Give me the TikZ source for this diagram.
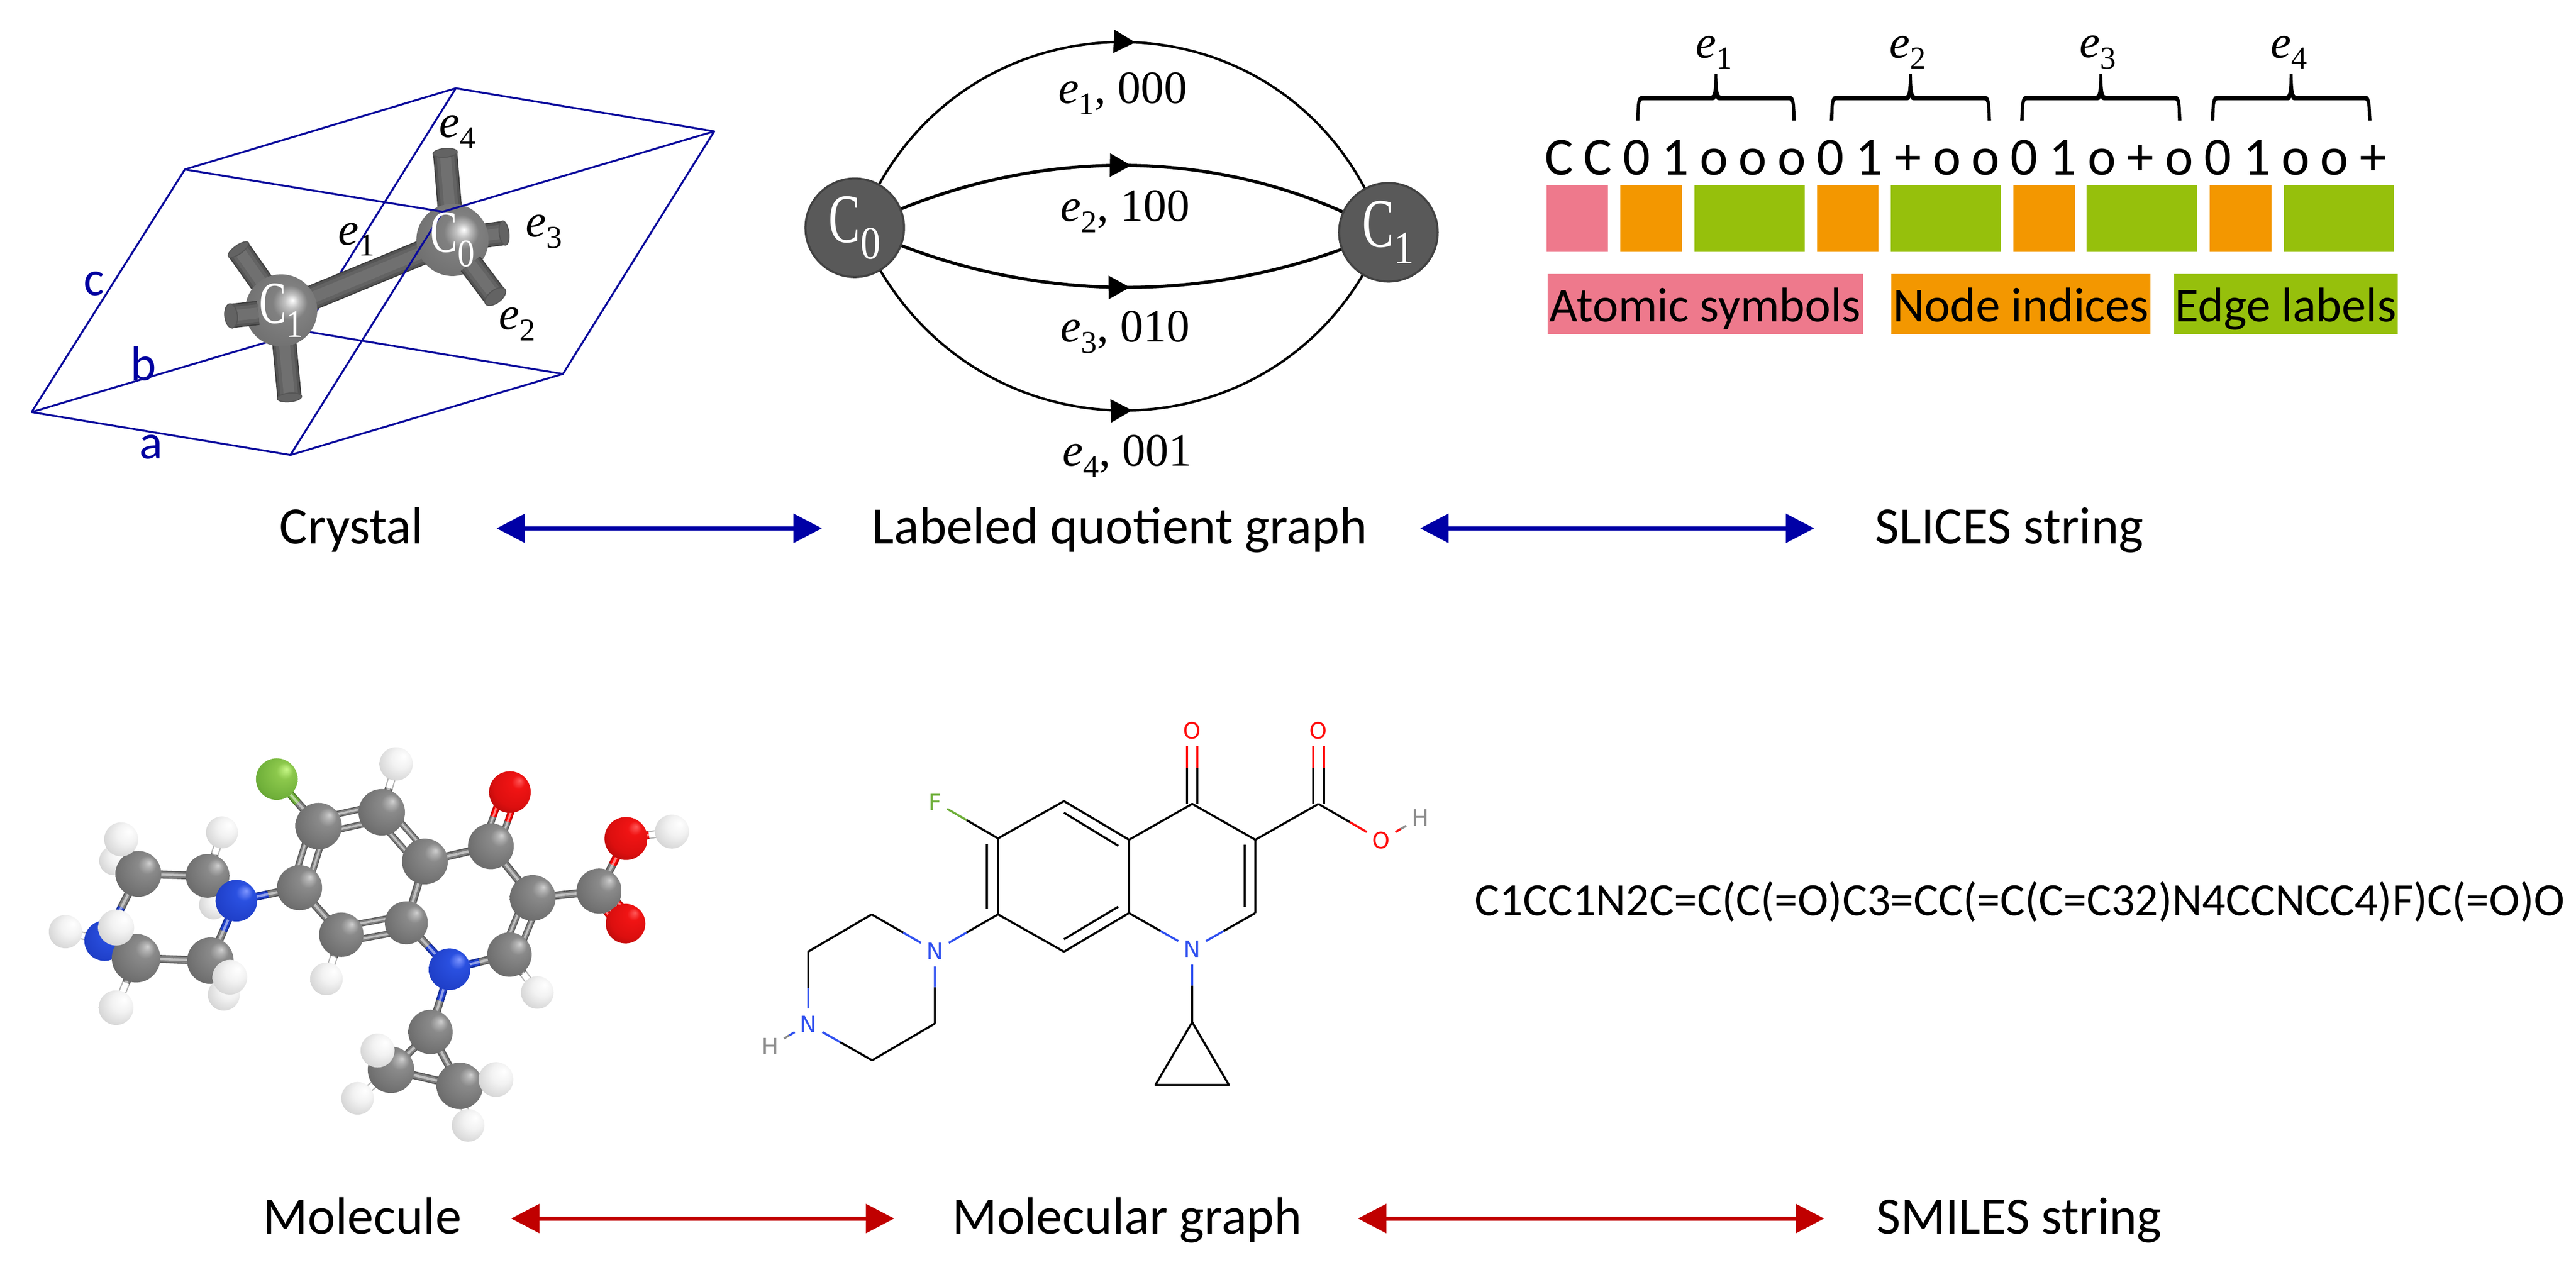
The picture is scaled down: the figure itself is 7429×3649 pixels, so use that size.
\documentclass[tikz,border=0pt]{standalone}
\usepackage{fontspec}
\usepackage{graphicx}
\setmainfont{Carlito}
\newfontfamily\cam{Liberation Serif}
\newfontfamily\djv{DejaVu Sans}
\usetikzlibrary{calc,decorations.markings,arrows.meta}
\definecolor{cellblue}{HTML}{0A0A9C}
\definecolor{lblblue}{HTML}{0000A0}
\definecolor{arrblue}{HTML}{0000A6}
\definecolor{arrred}{HTML}{C00000}
\definecolor{pinkc}{HTML}{EE798C}
\definecolor{orangec}{HTML}{F39700}
\definecolor{greenc}{HTML}{96C00C}
\definecolor{nodeg}{HTML}{595959}
\definecolor{noder}{HTML}{424242}
\definecolor{atomN}{HTML}{2F50F0}
\definecolor{atomO}{HTML}{FF0D0D}
\definecolor{atomF}{HTML}{6FAF3A}
\definecolor{atomH}{HTML}{8C8C8C}
\definecolor{bondN}{HTML}{2040D0}
\definecolor{stickg}{HTML}{808080}
% ball shadings: declared through a small helper taking HTML stops
\newcommand\stopc[2]{\definecolor{#1}{HTML}{#2}}
\stopc{ca}{D0D0D0}\stopc{cb}{B0B0B0}\stopc{cc}{8A8A8A}\stopc{cd}{757575}\stopc{ce}{606060}\stopc{cf}{484848}\stopc{cg}{383838}
\stopc{oa}{FF5A5A}\stopc{ob}{F01414}\stopc{oc}{DC0F0F}\stopc{od}{A80808}\stopc{oe}{600404}\stopc{of}{2C0000}
\stopc{na}{7F96FF}\stopc{nb}{2A50E0}\stopc{nc}{1F3FC8}\stopc{nd}{172E9C}\stopc{ne}{101F66}\stopc{nf}{0A1240}
\stopc{ha}{FFFFFF}\stopc{hb}{F2F2F2}\stopc{hc}{D8D8D8}\stopc{hd}{B0B0B0}\stopc{he}{808080}\stopc{hf}{606060}
\stopc{fa}{C8F888}\stopc{fb}{8CC84C}\stopc{fc}{70B03A}\stopc{fd}{4E8426}\stopc{fe}{284812}
\stopc{sa}{FFFFFF}\stopc{sb}{C0C0C0}\stopc{sc}{808080}\stopc{sd}{707070}\stopc{se}{626262}\stopc{sf}{4C4C4C}\stopc{sg}{404040}
\pgfdeclareradialshading{ballC}{\pgfpoint{12bp}{12bp}}{color(0bp)=(ca);color(4bp)=(cb);color(10bp)=(cc);color(25bp)=(cd);color(38bp)=(ce);color(46bp)=(cf);color(50bp)=(cg)}
\pgfdeclareradialshading{ballO}{\pgfpoint{12bp}{14bp}}{color(0bp)=(oa);color(8bp)=(ob);color(25bp)=(oc);color(38bp)=(od);color(46bp)=(oe);color(50bp)=(of)}
\pgfdeclareradialshading{ballN}{\pgfpoint{12bp}{12bp}}{color(0bp)=(na);color(10bp)=(nb);color(30bp)=(nc);color(40bp)=(nd);color(47bp)=(ne);color(50bp)=(nf)}
\pgfdeclareradialshading{ballH}{\pgfpoint{12bp}{12bp}}{color(0bp)=(ha);color(15bp)=(hb);color(30bp)=(hc);color(42bp)=(hd);color(48bp)=(he);color(50bp)=(hf)}
\pgfdeclareradialshading{ballF}{\pgfpoint{12bp}{12bp}}{color(0bp)=(fa);color(10bp)=(fb);color(28bp)=(fc);color(42bp)=(fd);color(50bp)=(fe)}
\pgfdeclareradialshading{ballS}{\pgfpoint{8bp}{7bp}}{color(0bp)=(sa);color(5bp)=(sb);color(12bp)=(sc);color(30bp)=(sd);color(40bp)=(se);color(46bp)=(sf);color(50bp)=(sg)}
\newcommand\ballat[3]{\shade[shading=ball#3] (#1) circle[radius=#2cm];}
% sticks for the molecule
\newcommand\halfstk[4]{%
 \draw[line width=#4cm,color=#3!70!black] #1 -- #2;
 \draw[line width=0.7*#4cm,color=#3] #1 -- #2;
 \draw[line width=0.3*#4cm,color=#3!50!white] #1 -- #2;}
\newcommand\stk[5][0.23]{%
 \halfstk{(#2)}{($(#2)!.5!(#3)$)}{#4}{#1}\halfstk{($(#2)!.5!(#3)$)}{(#3)}{#5}{#1}}
\newcommand\dstk[4]{%
 \coordinate (p1) at ($(#1)!0.22cm!90:(#2)$); \coordinate (p2) at ($(#2)!0.22cm!-90:(#1)$);
 \coordinate (q1) at ($(#1)!0.22cm!-90:(#2)$); \coordinate (q2) at ($(#2)!0.22cm!90:(#1)$);
 \stk[0.19]{p1}{p2}{#3}{#4}\stk[0.19]{q1}{q2}{#3}{#4}}
% cylinders of the crystal
\definecolor{cyl0}{HTML}{3F3F3F}
\definecolor{cyl1}{HTML}{555555}
\definecolor{cyl2}{HTML}{636363}
\definecolor{cyl3}{HTML}{707070}
\newcommand\cyl[3]{%
 \draw[line width=#3*1.0cm,color=cyl0] (#1) -- (#2);
 \draw[line width=#3*0.9cm,color=cyl1] (#1) -- (#2);
 \draw[line width=#3*0.72cm,color=cyl2] (#1) -- (#2);
 \draw[line width=#3*0.45cm,color=cyl3] (#1) -- (#2);}
\newcommand\cylend[4][0.18]{%
 \cyl{#2}{#3}{#4}
 \fill[color=cyl2,draw=cyl1,line width=.03cm] let \p1=($(#3)-(#2)$),\n1={atan2(\y1,\x1)} in (#3) ellipse[x radius=#4*#1cm,y radius=#4*0.5cm,rotate=\n1];}
% text helpers
\newcommand\esub[1]{{\cam\fontsize{38}{40}\selectfont\itshape e\raisebox{-0.24em}{\upshape\fontsize{26}{26}\selectfont #1}}}
\newcommand\elab[2]{\esub{#1}{\cam\fontsize{38}{40}\selectfont, #2}}
\newcommand\csub[4]{{\cam\fontsize{#3}{#3}\selectfont\scalebox{.68}[1]{#1}\raisebox{-0.24em}{\fontsize{#4}{#4}\selectfont\scalebox{.87}[1]{#2}}}}
\newcommand\bondh[4]{\draw[molb] (#1) -- ($(#1)!.5!(#2)$); \draw[molb,color=#3] ($(#1)!.5!(#2)$) -- (#2);}
\newcommand\brk[3]{% left, right, name
 \coordinate (#3c) at ({(#1+#2)/2},214);
 \fill (#1-5,348) -- (#1-3,310) .. controls (#1-2,290) and (#1+2,276) .. (#1+12,276) -- ({(#1+#2)/2-14},276) .. controls ({(#1+#2)/2-6},276) and ({(#1+#2)/2-5},250) .. ({(#1+#2)/2-4},214) -- ({(#1+#2)/2+4},214) .. controls ({(#1+#2)/2+5},250) and ({(#1+#2)/2+6},276) .. ({(#1+#2)/2+14},276) -- (#2-12,276) .. controls (#2-2,276) and (#2+2,290) .. (#2+3,310) -- (#2+5,348) -- (#2-5,348) -- (#2-6,310) .. controls (#2-7,296) and (#2-9,289) .. (#2-14,289) -- ({(#1+#2)/2+8},289) .. controls ({(#1+#2)/2+3},289) and ({(#1+#2)/2+1},285) .. ({(#1+#2)/2},281) .. controls ({(#1+#2)/2-1},285) and ({(#1+#2)/2-3},289) .. ({(#1+#2)/2-8},289) -- (#1+14,289) .. controls (#1+9,289) and (#1+7,296) .. (#1+6,310) -- (#1+5,348) -- cycle;}
\tikzset{
 cellline/.style={color=cellblue,line width=.055cm},
 celllab/.style={text=lblblue,font=\fontsize{40}{44}\selectfont,inner sep=0},
 mainlab/.style={font=\fontsize{43}{48}\selectfont,text height=1.2cm,text depth=.32cm,inner sep=0},
 gnode/.style={circle,fill=nodeg,draw=noder,line width=.06cm,minimum size=2.84cm,inner sep=0,text=white},
 gedge/.style={line width=.07cm,postaction=decorate,decoration={markings,mark=at position 0.52 with {\arrow{Triangle[length=.62cm,width=.66cm]}}}},
 gedgeb/.style={gedge,line width=.09cm},
 barrow/.style={{Triangle[length=.82cm,width=.82cm]}-{Triangle[length=.82cm,width=.82cm]},color=arrblue,line width=.12cm},
 rarrow/.style={{Triangle[length=.82cm,width=.82cm]}-{Triangle[length=.82cm,width=.82cm]},color=arrred,line width=.12cm},
 strchar/.style={anchor=base,inner sep=0,font=\fontsize{44}{48}\selectfont},
 legbox/.style={minimum height=1.73cm,inner sep=0,font=\fontsize{40}{44}\selectfont,text height=1.32cm,text depth=.32cm},
 molb/.style={line width=.06cm,color=black},
 hetero/.style={inner xsep=.15cm,inner ysep=.2cm,font=\djv\fontsize{18.5}{20}\selectfont,text height=.48cm,text depth=0cm},
}
\begin{document}
\begin{tikzpicture}[x=0.01cm,y=-0.01cm]
\useasboundingbox (0,0) rectangle (7429,3649);
%% ================= crystal =================
\begin{scope}[xscale=1.4031,yscale=0.7972,shift={(0,188.2)}]
 \coordinate (A) at (65,1303); \coordinate (B) at (597,1458); \coordinate (Cc) at (1157,1165); \coordinate (D) at (625,1010);
 \coordinate (E) at (380,425); \coordinate (F) at (910,578); \coordinate (G) at (1468,287); \coordinate (H) at (937,131);
 \coordinate (c0) at (930,680); \coordinate (c1) at (578,935);
 \coordinate (c0a) at (915,365); \coordinate (c0b) at (1036,655); \coordinate (c0c) at (1018,885);
 \coordinate (c1a) at (490,715); \coordinate (c1b) at (475,955); \coordinate (c1c) at (595,1250);
 \node[celllab] (la) at (310,1430) {a};
 \node[celllab] (lb) at (295,1128) {b};
 \node[celllab] (lc) at (193,838) {c};
 \node[inner sep=0] (e4l) at (940,290) {\esub{4}};
 \node[inner sep=0] (e1l) at (733,678) {\esub{1}};
 \node[inner sep=0] (e3l) at (1118,650) {\esub{3}};
 \node[inner sep=0] (e2l) at (1063,985) {\esub{2}};
\end{scope}
\coordinate (c0f) at ($(c0)!.42!(c0c)$);
\coordinate (c1f) at ($(c1)!.46!(c1b)$);
\draw[cellline] (D) -- (H) (A) -- (D) -- (Cc);
\cyl{c0}{c1}{.72}
\cylend{c1}{c1a}{.70}
\cylend{c1}{c1c}{.70}
\cylend{c0}{c0a}{.70}
\cylend[.2]{c0}{c0b}{.70}
\ballat{c1}{1.04}{S}
\ballat{c0}{1.04}{S}
\cylend[.26]{c0f}{c0c}{.70}
\cylend[.26]{c1f}{c1b}{.70}
\draw[cellline,line join=round] (A) -- (B) -- (Cc) -- (G) -- (F) -- (E) -- (A);
\draw[cellline] (E) -- (H) -- (G) (B) -- (F);
\node[text=white,inner sep=0] (t0) at (c0) {\csub{C}{0}{49}{32}};
\node[text=white,inner sep=0] (t1) at (c1) {\csub{C}{1}{49}{32}};
\node[mainlab] (crystal) at (1014,1524) {Crystal};
%% ================= quotient graph =================
\node[gnode] (n0) at (2465,657) {\csub{C}{0}{57}{38}};
\node[gnode] (n1) at (4004,670) {\csub{C}{1}{57}{38}};
\coordinate (o1a) at (2844,-17); \coordinate (o1b) at (3636,-17);
\coordinate (o2a) at (3013,434); \coordinate (o2b) at (3476,434);
\coordinate (o3a) at (3013,867); \coordinate (o3b) at (3463,867);
\coordinate (o4a) at (2859,1316); \coordinate (o4b) at (3617,1316);
\draw[gedge] (n0) .. controls (o1a) and (o1b) .. (n1);
\draw[gedgeb] (n0) .. controls (o2a) and (o2b) .. (n1);
\draw[gedgeb] (n0) .. controls (o3a) and (o3b) .. (n1);
\draw[gedge] (n0) .. controls (o4a) and (o4b) .. (n1);
\node[inner sep=0] (l1) at (3238,270) {\elab{1}{000}};
\node[inner sep=0] (l2) at (3245,610) {\elab{2}{100}};
\node[inner sep=0] (l3) at (3245,958) {\elab{3}{010}};
\node[inner sep=0] (l4) at (3251,1316) {\elab{4}{001}};
\node[mainlab] (lqg) at (3229,1524) {Labeled quotient graph};
%% ================= SLICES =================
\foreach \c [count=\i from 0] in {C,C,0,1,o,o,o,0,1,+,o,o,0,1,o,+,o,0,1,o,o,+}{
 \node[strchar] (s\i) at ({4496+111.8*\i},504) {\c};
}
\foreach \l/\r/\col [count=\i] in {4460/4637/pinkc,4673/4851/orangec,4887/5204/greenc,5240/5417/orangec,5453/5771/greenc,5807/5984/orangec,6018/6337/greenc,6373/6551/orangec,6587/6904/greenc}{
 \fill[color=\col] (\l,534) rectangle (\r,727);
}
\brk{4723}{5174}{b1}\brk{5282}{5737}{b2}\brk{5831}{6286}{b3}\brk{6381}{6834}{b4}
\node[inner sep=0] (be1) at (4943,151) {\esub{1}};
\node[inner sep=0] (be2) at (5501,151) {\esub{2}};
\node[inner sep=0] (be3) at (6050,151) {\esub{3}};
\node[inner sep=0] (be4) at (6601,151) {\esub{4}};
\node[legbox,fill=pinkc,minimum width=9.08cm] (lg1) at (4918,877.5) {Atomic symbols};
\node[legbox,fill=orangec,minimum width=7.47cm] (lg2) at (5828.5,877.5) {Node indices};
\node[legbox,fill=greenc,minimum width=6.44cm] (lg3) at (6592,877.5) {Edge labels};
\node[mainlab] (slices) at (5795,1524) {SLICES string};
\draw[barrow,shorten <=2.10cm,shorten >=1.44cm] (crystal) -- (lqg);
\draw[barrow,shorten <=1.52cm,shorten >=1.75cm] (lqg) -- (slices);
%% ================= molecule 3D =================
\begin{scope}[xscale=1.3393,yscale=0.7972,shift={(0,2634.2)}]
 \foreach \n/\x/\y in {F1/596/185,Ha/853/130,O1/1098/232,C1/686/355,C2/822/305,C3/915/483,C4/1057/428,C5/1147/615,C6/1290/590,O2/1348/400,Hb/1447/375,O3/1347/708,C7/645/578,C8/735/748,C9/875/705,N1/968/873,C10/1097/820,Hc/1157/957,Hd/703/908,N2/509/625,C11/447/535,C12/298/528,He/478/378,Hf/261/403,Hg/245/480,N3/225/770,Hh/141/737,Hi/250/722,C13/293/833,C14/453/842,Hj/495/902,Hk/482/965,Hl/250/1012,Hm/460/640,C15/927/1100,C16/842/1237,C17/990/1295,Hn/813/1167,Ho/770/1340,Hp/1068/1272,Hq/1008/1438}{
  \coordinate (\n) at (\x,\y);
 }
\end{scope}
\stk{C1}{F1}{stickg}{atomF}
\dstk{C1}{C2}{stickg}{stickg}
\stk{C2}{Ha}{stickg}{white}
\dstk{C2}{C3}{stickg}{stickg}
\dstk{C1}{C7}{stickg}{stickg}
\stk{C7}{C8}{stickg}{stickg}
\dstk{C8}{C9}{stickg}{stickg}
\stk{C9}{C3}{stickg}{stickg}
\stk{C3}{C4}{stickg}{stickg}
\dstk{C4}{O1}{stickg}{red}
\stk{C4}{C5}{stickg}{stickg}
\dstk{C5}{C10}{stickg}{stickg}
\stk{C5}{C6}{stickg}{stickg}
\stk{C6}{O2}{stickg}{red}
\dstk{C6}{O3}{stickg}{red}
\stk{O2}{Hb}{red}{white}
\stk{C10}{N1}{stickg}{bondN}
\stk{C9}{N1}{stickg}{bondN}
\stk{C15}{N1}{stickg}{bondN}
\stk{C10}{Hc}{stickg}{white}
\stk{C8}{Hd}{stickg}{white}
\stk{C7}{N2}{stickg}{bondN}
\stk{C11}{N2}{stickg}{bondN}
\stk{C14}{N2}{stickg}{bondN}
\stk{C11}{C12}{stickg}{stickg}
\stk{C12}{N3}{stickg}{bondN}
\stk{C13}{N3}{stickg}{bondN}
\stk{C13}{C14}{stickg}{stickg}
\stk{C11}{He}{stickg}{white}
\stk{C12}{Hf}{stickg}{white}
\stk{C13}{Hl}{stickg}{white}
\stk{N3}{Hh}{bondN}{white}
\stk{C15}{C16}{stickg}{stickg}
\stk{C15}{C17}{stickg}{stickg}
\stk{C16}{C17}{stickg}{stickg}
\stk{C16}{Ho}{stickg}{white}
\stk{C17}{Hq}{stickg}{white}
% rear atoms first
\ballat{Hg}{.42}{H}\ballat{Hm}{.42}{H}\ballat{N3}{.58}{N}\ballat{Hh}{.48}{H}
\ballat{C12}{.66}{C}\ballat{Hf}{.49}{H}\ballat{He}{.46}{H}\ballat{C11}{.63}{C}\ballat{N2}{.60}{N}
\ballat{C13}{.70}{C}\ballat{Hi}{.52}{H}\ballat{C14}{.67}{C}\ballat{Hk}{.46}{H}\ballat{Hj}{.50}{H}\ballat{Hl}{.50}{H}
\ballat{F1}{.60}{F}\ballat{Ha}{.48}{H}\ballat{O1}{.60}{O}
\ballat{C1}{.67}{C}\ballat{C2}{.67}{C}\ballat{C3}{.66}{C}\ballat{C4}{.66}{C}\ballat{C5}{.66}{C}\ballat{C6}{.65}{C}
\ballat{O3}{.57}{O}\ballat{O2}{.62}{O}\ballat{Hb}{.49}{H}
\ballat{C7}{.65}{C}\ballat{C8}{.64}{C}\ballat{C9}{.62}{C}\ballat{N1}{.60}{N}\ballat{C10}{.64}{C}\ballat{Hc}{.47}{H}\ballat{Hd}{.47}{H}
\ballat{C15}{.64}{C}\ballat{C16}{.67}{C}\ballat{Hn}{.49}{H}\ballat{C17}{.67}{C}\ballat{Ho}{.47}{H}\ballat{Hp}{.50}{H}\ballat{Hq}{.47}{H}
\node[mainlab] (molecule) at (1045,3515) {Molecule};
%% ================= molecular graph =================
\begin{scope}[xscale=1.3393,yscale=0.7972,shift={(1568,2508.8)}]
 \foreach \n/\x/\y in {a6/581/525,a5/723/390,a4a/863/530,a4/999/400,a3/1135/530,acx/1271/400,a2/1135/795,a8a/863/795,a8/723/935,a7/581/800,p1/309/800,p2/173/934,p3/310/1328,p4/445/1195,cp/999/1190,cp2/920/1417,cp3/1078/1417}{
  \coordinate (\n) at (\x,\y);
 }
 \node[hetero,text=atomF] (hF) at (446,393) {F};
 \node[hetero,text=atomO] (hO4) at (999,135) {O};
 \node[hetero,text=atomO] (hOa) at (1271,135) {O};
 \node[hetero,text=atomO] (hOb) at (1406,532) {O};
 \node[hetero,text=atomH] (hHa) at (1490,450) {H};
 \node[hetero,text=atomN] (hN1) at (999,925) {N};
 \node[hetero,text=atomN] (hNp) at (445,932) {N};
 \node[hetero,text=atomN] (hNh) at (173,1197) {N};
 \node[hetero,text=atomH] (hHb) at (90,1278) {H};
 \draw[molb,line join=round] (a7) -- (a6) -- (a5) -- (a4a) -- (a8a) -- (a8) -- (a7) (a4a) -- (a4) -- (a3) -- (a2) (a3) -- (acx) (p1) -- (p2) (p3) -- (p4) (cp) -- (cp2) -- (cp3) -- (cp);
 \draw[molb] (557,545) -- (557,780) (723,432) -- (840,552) (723,890) -- (840,772) (1112,548) -- (1112,773);
 \draw[molb] (988,400) -- (988,270) (1010,400) -- (1010,270) (1260,400) -- (1260,270) (1283,400) -- (1283,270);
 \draw[molb,color=atomO] (988,270) -- (988,190) (1010,270) -- (1010,190) (1260,270) -- (1260,190) (1283,270) -- (1283,190);
\end{scope}
\bondh{a6}{hF}{atomF}{}
\bondh{acx}{hOb}{atomO}{}
\bondh{a2}{hN1}{atomN}{}
\bondh{a8a}{hN1}{atomN}{}
\bondh{cp}{hN1}{atomN}{}
\bondh{a7}{hNp}{atomN}{}
\bondh{p1}{hNp}{atomN}{}
\bondh{p4}{hNp}{atomN}{}
\bondh{p2}{hNh}{atomN}{}
\bondh{p3}{hNh}{atomN}{}
\draw[molb,color=atomO] (hOb) -- ($(hOb)!.5!(hHa)$);
\draw[molb,color=atomH] ($(hOb)!.5!(hHa)$) -- (hHa);
\draw[molb,color=atomN] (hNh) -- ($(hNh)!.5!(hHb)$);
\draw[molb,color=atomH] ($(hNh)!.5!(hHb)$) -- (hHb);
\node[mainlab] (molgraph) at (3250,3515) {Molecular graph};
%% ================= SMILES =================
\node[inner sep=0,font=\fontsize{38}{48}\selectfont] (smi) at (5825,2601) {C1CC1N2C=C(C(=O)C3=CC(=C(C=C32)N4CCNCC4)F)C(=O)O};
\node[mainlab] (smiles) at (5823,3515) {SMILES string};
\draw[rarrow,shorten <=1.42cm,shorten >=1.66cm] (molecule) -- (molgraph);
\draw[rarrow,shorten <=1.61cm,shorten >=1.50cm] (molgraph) -- (smiles);
\end{tikzpicture}
\end{document}
